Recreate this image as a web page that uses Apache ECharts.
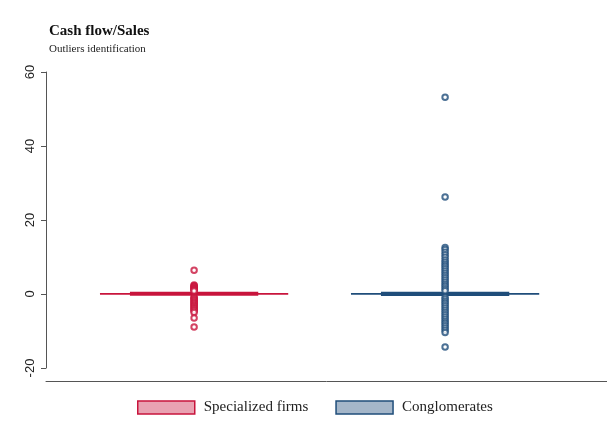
<!DOCTYPE html>
<html>
<head>
<meta charset="utf-8">
<script src="https://cdn.jsdelivr.net/npm/echarts@6/dist/echarts.min.js"></script>
<style>
  html, body { margin: 0; padding: 0; background: #ffffff; }
  #chart { width: 607px; height: 441px; }
</style>
</head>
<body>
<div id="chart"></div>
<script>
// Groups and their positions along the hidden x scale
const groups = ['Specialized firms', 'Conglomerates'];
const groupPos = [1, 2];

// Box statistics per group: [lower adjacent, q1, median, q3, upper adjacent]
const boxSpecialized = [-0.4, -0.1, 0.05, 0.2, 0.5];
const boxConglomerates = [-0.5, -0.15, 0.05, 0.2, 0.6];

// Outside values per group
const outSpecialized = [6.4, 2.4, 2.2, 2.0, 1.8, 1.6, 1.4, 1.2, 1.0, 0.8,
  -0.8, -1.0, -1.3, -1.6, -1.9, -2.2, -2.5, -2.8, -3.1, -3.4, -3.7, -4.0,
  -4.3, -4.6, -5.0, -6.5, -8.9];
const outConglomerates = [53.2, 26.2, 12.6, 12.0, 11.3, 10.6, 9.9, 9.2, 8.6,
  8.0, 7.4, 6.8, 6.2, 5.6, 5.0, 4.4, 3.8, 3.2, 2.6, 2.0, 1.4, 0.9,
  -0.9, -1.4, -2.0, -2.6, -3.2, -3.8, -4.4, -5.0, -5.6, -6.2, -6.8, -7.4,
  -8.0, -8.6, -9.2, -9.8, -10.4, -14.3];

// Value axis ticks
const yTicks = [-20, 0, 20, 40, 60];

const RED = '#c8143c', PINK = '#e9a2b2';
const BLUE = '#1f4d7a', STEEL = '#a4b6c9';

function boxItem(pos, s) { return [pos].concat(s); }

function renderBox(params, api) {
  const x = api.value(0);
  const lo = api.coord([x, api.value(1)]);
  const q1 = api.coord([x, api.value(2)]);
  const md = api.coord([x, api.value(3)]);
  const q3 = api.coord([x, api.value(4)]);
  const hi = api.coord([x, api.value(5)]);
  const boxW = api.size([0.5, 0])[0];
  const capW = api.size([0.75, 0])[0];
  const color = api.visual('color');
  const fill = params.seriesIndex === 0 ? PINK : STEEL;
  return {
    type: 'group',
    children: [
      { type: 'line', shape: { x1: md[0] - capW / 2, y1: md[1], x2: md[0] + capW / 2, y2: md[1] },
        style: { stroke: color, lineWidth: 1.8 } },
      { type: 'line', shape: { x1: lo[0], y1: lo[1], x2: hi[0], y2: hi[1] },
        style: { stroke: color, lineWidth: 1.8 } },
      { type: 'rect', shape: { x: q3[0] - boxW / 2, y: q3[1], width: boxW, height: Math.max(q1[1] - q3[1], 0.5) },
        style: { fill: fill, stroke: color, lineWidth: 2.8 } }
    ]
  };
}

const chart = echarts.init(document.getElementById('chart'), null, { renderer: 'canvas' });

chart.setOption({
  backgroundColor: '#ffffff',
  animation: false,
  title: {
    text: 'Cash flow/Sales',
    subtext: 'Outliers identification',
    left: 49, top: 24, padding: 0, itemGap: 5,
    textStyle: { fontFamily: 'Liberation Serif', fontWeight: 'bold', fontSize: 15, color: '#111' },
    subtextStyle: { fontFamily: 'Liberation Serif', fontSize: 11, color: '#222' }
  },
  legend: {
    left: 137, top: 400, padding: 0, itemGap: 27,
    itemWidth: 57, itemHeight: 13, icon: 'rect',
    textStyle: { fontFamily: 'Liberation Serif', fontSize: 15, color: '#222', padding: [0, 0, 0, 4] },
    data: [
      { name: groups[0], itemStyle: { color: PINK, borderColor: RED, borderWidth: 1.5 } },
      { name: groups[1], itemStyle: { color: STEEL, borderColor: BLUE, borderWidth: 1.5 } }
    ]
  },
  grid: { left: 46, right: 0, top: 72, bottom: 73 },
  xAxis: {
    type: 'value', min: 0.41, max: 2.645, offset: 13,
    axisLine: { show: true, onZero: false, lineStyle: { color: '#555', width: 1 } },
    axisTick: { show: false }, axisLabel: { show: false }, splitLine: { show: false }
  },
  yAxis: {
    type: 'value', min: yTicks[0], max: yTicks[yTicks.length - 1], interval: 20,
    axisLine: { show: true, lineStyle: { color: '#555', width: 1 } },
    axisTick: { show: true, length: 5, lineStyle: { color: '#555' } },
    axisLabel: { rotate: 90, margin: 9, fontFamily: 'Liberation Sans', fontSize: 13, color: '#222' },
    splitLine: { show: false }
  },
  series: [
    { name: groups[0], type: 'custom', color: RED, renderItem: renderBox,
      encode: { x: 0, y: [1, 2, 3, 4, 5] }, data: [boxItem(groupPos[0], boxSpecialized)], z: 2 },
    { name: groups[1], type: 'custom', color: BLUE, renderItem: renderBox,
      encode: { x: 0, y: [1, 2, 3, 4, 5] }, data: [boxItem(groupPos[1], boxConglomerates)], z: 2 },
    { name: groups[0], type: 'scatter', symbol: 'emptyCircle', symbolSize: 5.5,
      itemStyle: { color: RED, borderColor: RED, borderWidth: 1.5 },
      data: outSpecialized.map(v => [groupPos[0], v]), z: 3 },
    { name: groups[1], type: 'scatter', symbol: 'emptyCircle', symbolSize: 5.5,
      itemStyle: { color: BLUE, borderColor: BLUE, borderWidth: 1.5 },
      data: outConglomerates.map(v => [groupPos[1], v]), z: 3 }
  ]
});
</script>
</body>
</html>
